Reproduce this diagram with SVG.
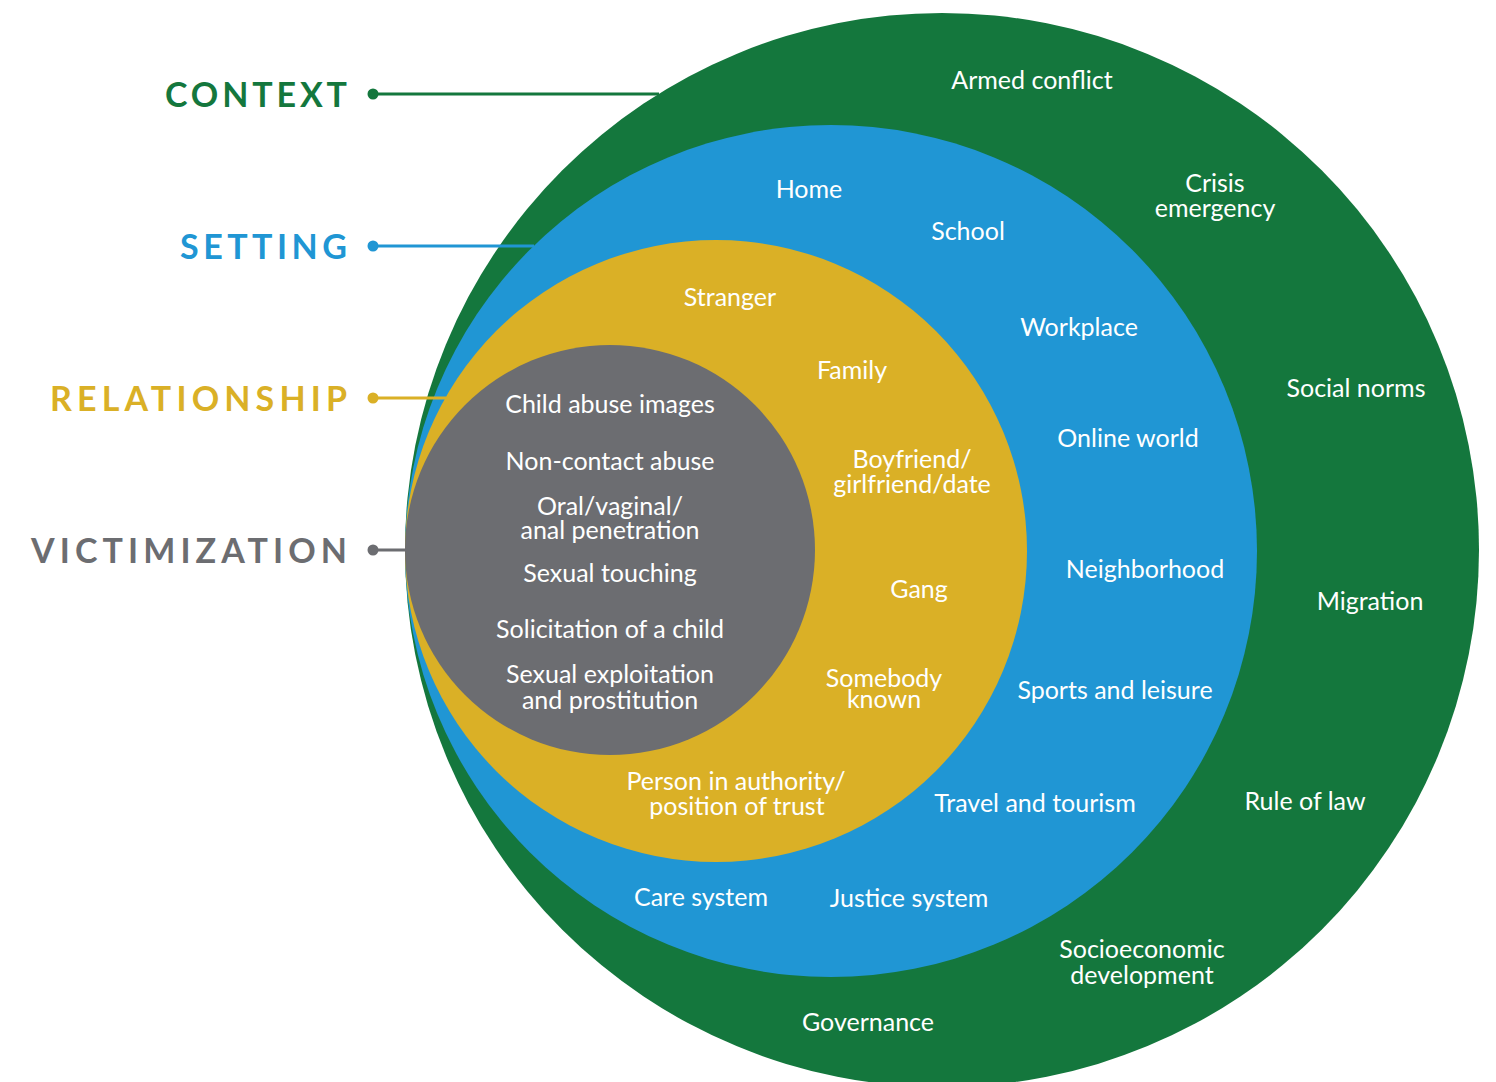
<svg xmlns="http://www.w3.org/2000/svg" width="1496" height="1082" viewBox="0 0 1496 1082">
<style>
.t{font-family:Lato,"Noto Sans","DejaVu Sans",sans-serif;font-size:25px;fill:#ffffff;text-anchor:middle}
.lab{font-family:Lato,"Noto Sans","DejaVu Sans",sans-serif;font-size:34px;font-weight:bold}
.ln{stroke-width:3;fill:none}
</style>
<rect width="1496" height="1082" fill="#ffffff"/>
<g id="context">
<circle cx="942" cy="550" r="537" fill="#14773d"/>
<text class="t" x="1032" y="89">Armed conflict</text>
<text class="t" x="1215" y="192">Crisis<tspan x="1215" dy="25">emergency</tspan></text>
<text class="t" x="1356" y="397">Social norms</text>
<text class="t" x="1370" y="610">Migration</text>
<text class="t" x="1305" y="810">Rule of law</text>
<text class="t" x="1142" y="958">Socioeconomic<tspan x="1142" dy="26">development</tspan></text>
<text class="t" x="868" y="1031">Governance</text>
</g>
<g id="setting">
<circle cx="831" cy="551" r="426" fill="#2096d4"/>
<text class="t" x="809" y="198">Home</text>
<text class="t" x="968" y="240">School</text>
<text class="t" x="1079" y="336">Workplace</text>
<text class="t" x="1128" y="447">Online world</text>
<text class="t" x="1145" y="578">Neighborhood</text>
<text class="t" x="1115" y="699">Sports and leisure</text>
<text class="t" x="1035" y="812">Travel and tourism</text>
<text class="t" x="909" y="907">Justice system</text>
<text class="t" x="701" y="906">Care system</text>
</g>
<g id="relationship">
<circle cx="716" cy="551" r="311" fill="#dab026"/>
<text class="t" x="730" y="306">Stranger</text>
<text class="t" x="852" y="379">Family</text>
<text class="t" x="912" y="468">Boyfriend/<tspan x="912" dy="25">girlfriend/date</tspan></text>
<text class="t" x="919" y="598">Gang</text>
<text class="t" x="884" y="687">Somebody<tspan x="884" dy="21">known</tspan></text>
<text class="t" x="736" y="790">Person in authority/<tspan x="737" dy="25">position of trust</tspan></text>
</g>
<g id="victimization">
<circle cx="610" cy="550" r="205" fill="#6c6d71"/>
<text class="t" x="610" y="413">Child abuse images</text>
<text class="t" x="610" y="470">Non-contact abuse</text>
<text class="t" x="610" y="515">Oral/vaginal/<tspan x="610" dy="24">anal penetration</tspan></text>
<text class="t" x="610" y="582">Sexual touching</text>
<text class="t" x="610" y="638">Solicitation of a child</text>
<text class="t" x="610" y="683">Sexual exploitation<tspan x="610" dy="26">and prostitution</tspan></text>
</g>
<g id="connectors">
<line class="ln" x1="373" y1="94" x2="659" y2="94" stroke="#14773d"/>
<line class="ln" x1="373" y1="246" x2="534" y2="246" stroke="#2096d4"/>
<line class="ln" x1="373" y1="398" x2="446" y2="398" stroke="#dab026"/>
<line class="ln" x1="373" y1="550" x2="406" y2="550" stroke="#6c6d71"/>
<circle cx="373" cy="94" r="5.5" fill="#14773d"/>
<circle cx="373" cy="246" r="5.5" fill="#2096d4"/>
<circle cx="373" cy="398" r="5.5" fill="#dab026"/>
<circle cx="373" cy="550" r="5.5" fill="#6c6d71"/>
</g>
<g id="labels">
<text class="lab" x="165" y="107" fill="#14773d" textLength="182" lengthAdjust="spacing">CONTEXT</text>
<text class="lab" x="180" y="259" fill="#2096d4" textLength="167" lengthAdjust="spacing">SETTING</text>
<text class="lab" x="50" y="411" fill="#dab026" textLength="297" lengthAdjust="spacing">RELATIONSHIP</text>
<text class="lab" x="31" y="563" fill="#6c6d71" textLength="316" lengthAdjust="spacing">VICTIMIZATION</text>
</g>
</svg>
